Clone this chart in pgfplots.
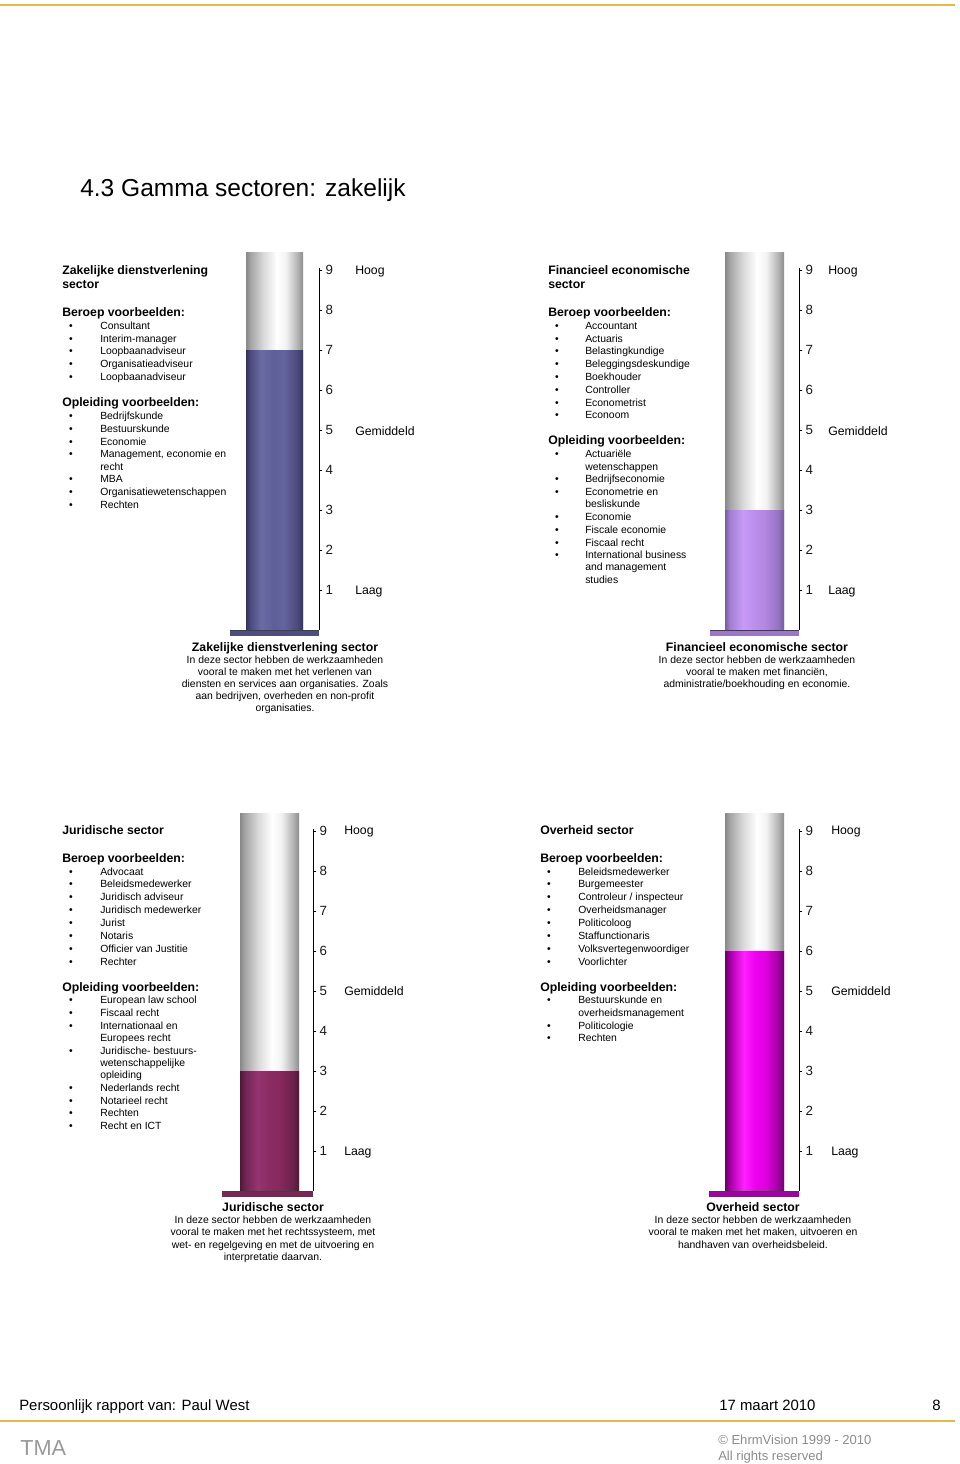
\documentclass[border=0pt]{standalone}
\usepackage{pgfplots}
\pgfplotsset{compat=1.18}
\usepackage{fontspec}
\setmainfont{Liberation Sans}

\definecolor{gold}{HTML}{E0B94A}
\definecolor{g0}{HTML}{888888}\definecolor{g1}{HTML}{A4A4A4}\definecolor{g2}{HTML}{D8D8D8}
\definecolor{g3}{HTML}{FFFFFF}\definecolor{g4}{HTML}{F2F2F2}\definecolor{g5}{HTML}{B4B4B4}\definecolor{g6}{HTML}{8C8C8C}
\definecolor{a0}{HTML}{33335A}\definecolor{a1}{HTML}{4C4C80}\definecolor{a2}{HTML}{6A6AA4}
\definecolor{a3}{HTML}{5E5E98}\definecolor{a4}{HTML}{6464A0}\definecolor{a5}{HTML}{4A4A7C}\definecolor{a6}{HTML}{35355A}
\definecolor{b0}{HTML}{7A5AA0}\definecolor{b1}{HTML}{A07ED2}\definecolor{b2}{HTML}{C69AF6}
\definecolor{b3}{HTML}{BA8EEA}\definecolor{b4}{HTML}{B488E2}\definecolor{b5}{HTML}{9474C4}\definecolor{b6}{HTML}{7A5A9E}
\definecolor{c0}{HTML}{4E1838}\definecolor{c1}{HTML}{6E2452}\definecolor{c2}{HTML}{95346E}
\definecolor{c3}{HTML}{8A2C62}\definecolor{c4}{HTML}{88295F}\definecolor{c5}{HTML}{6A2249}\definecolor{c6}{HTML}{4E1838}
\definecolor{d0}{HTML}{6A006A}\definecolor{d1}{HTML}{B000B0}\definecolor{d2}{HTML}{FF20FF}
\definecolor{d3}{HTML}{F000F0}\definecolor{d4}{HTML}{DC00DC}\definecolor{d5}{HTML}{A000A0}\definecolor{d6}{HTML}{700070}
\definecolor{baseA}{HTML}{4E4E7E}\definecolor{baseB}{HTML}{9A78C8}
\definecolor{baseC}{HTML}{7A2656}\definecolor{baseD}{HTML}{A000A4}

\pgfdeclarehorizontalshading{greytube}{100bp}{color(0bp)=(g0); color(25bp)=(g0); color(29bp)=(g1); color(40bp)=(g2); color(52bp)=(g3); color(60bp)=(g4); color(70bp)=(g5); color(75bp)=(g6); color(100bp)=(g6)}
\pgfdeclarehorizontalshading{tubeA}{100bp}{color(0bp)=(a0); color(25bp)=(a0); color(29bp)=(a1); color(38bp)=(a2); color(50bp)=(a3); color(58bp)=(a4); color(70bp)=(a5); color(75bp)=(a6); color(100bp)=(a6)}
\pgfdeclarehorizontalshading{tubeB}{100bp}{color(0bp)=(b0); color(25bp)=(b0); color(29bp)=(b1); color(40bp)=(b2); color(50bp)=(b3); color(58bp)=(b4); color(70bp)=(b5); color(75bp)=(b6); color(100bp)=(b6)}
\pgfdeclarehorizontalshading{tubeC}{100bp}{color(0bp)=(c0); color(25bp)=(c0); color(29bp)=(c1); color(40bp)=(c2); color(50bp)=(c3); color(58bp)=(c4); color(70bp)=(c5); color(75bp)=(c6); color(100bp)=(c6)}
\pgfdeclarehorizontalshading{tubeD}{100bp}{color(0bp)=(d0); color(25bp)=(d0); color(30bp)=(d1); color(41bp)=(d2); color(50bp)=(d3); color(60bp)=(d4); color(70bp)=(d5); color(75bp)=(d6); color(100bp)=(d6)}

\newcommand\body{\fontsize{7.8}{9}\selectfont}
\newcommand\bhead{\fontsize{9.2}{11}\selectfont\bfseries}
\newcommand\scl{\fontsize{9.2}{11}\selectfont}

\newcommand\Ln[3]{\node[anchor=base west,inner sep=0pt,font=\body] at (#1,{-#2-3.3}) {#3};}
\newcommand\Hd[3]{\node[anchor=base west,inner sep=0pt,font=\bhead] at (#1,{-#2-4.3}) {#3};}
\newcommand\It[4]{\node[anchor=base,inner sep=0pt,font=\body] at (#1,{-#3-3.3}) {•};\Ln{#2}{#3}{#4}}
\newcommand\Sc[3]{\node[anchor=base west,inner sep=0pt,font=\scl] at (#1,{-#2-4.3}) {#3};}
\newcommand\Cb[3]{\node[anchor=base,inner sep=0pt,font=\bhead] at (#1,{-#2-4.3}) {#3};}
\newcommand\Cl[3]{\node[anchor=base,inner sep=0pt,font=\body] at (#1,{-#2-3.3}) {#3};}

% thermometer: x0, y0 (base line), xmax, tube left, tube right, value, shading, base colour
\newcommand\therm[8]{%
\coordinate (thermpos) at (#1,-#2);
\begin{axis}[at={(thermpos)}, anchor=south west,
  x=0.75pt, y=30pt, xmin=0, xmax=#3, ymin=0, ymax=9.05,
  axis x line=none, axis y line=right,
  axis line style={-, black, line width=0.6pt},
  xtick=\empty, ytick={1,2,3,4,5,6,7,8,9},
  tick align=outside, major tick length=2.5pt,
  tick style={black, line width=0.5pt},
  yticklabel style={font=\fontsize{10}{11}\selectfont, text=black!90, inner sep=2.2pt},
  /pgf/number format/assume math mode=true,
  clip=false]
\addplot[draw=none, shade, shading=greytube] coordinates {(#4,0) (#4,9.45) (#5,9.45) (#5,0)} -- cycle;
\addplot[draw=none, shade, shading=#7] coordinates {(#4,0) (#4,#6) (#5,#6) (#5,0)} -- cycle;
\addplot[draw=none, fill=#8] coordinates {(0,-0.16) (0,0) (#3,0) (#3,-0.16)} -- cycle;
\addplot[black!75, line width=0.6pt] coordinates {(0,0) (#3,0)};
\end{axis}}

\begin{document}
\begin{tikzpicture}[x=0.75pt,y=0.75pt]
\path[use as bounding box] (0,0) rectangle (960,-1464);

\draw[gold, line width=1.9pt] (0,-5) -- (955,-5);

\node[anchor=base west,inner sep=0pt,font=\fontsize{18.4}{22}\selectfont] at (80,-196) {4.3 Gamma sectoren: zakelijk};

% ---------------- panel 1
\Hd{62}{270}{Zakelijke dienstverlening}
\Hd{62}{284}{sector}
\Hd{62}{312}{Beroep voorbeelden:}
\It{71}{100}{326}{Consultant}
\It{71}{100}{339}{Interim-manager}
\It{71}{100}{351}{Loopbaanadviseur}
\It{71}{100}{364}{Organisatieadviseur}
\It{71}{100}{377}{Loopbaanadviseur}
\Hd{62}{402}{Opleiding voorbeelden:}
\It{71}{100}{416}{Bedrijfskunde}
\It{71}{100}{429}{Bestuurskunde}
\It{71}{100}{442}{Economie}
\It{71}{100}{454}{Management, economie en}
\Ln{100}{467}{recht}
\It{71}{100}{479}{MBA}
\It{71}{100}{492}{Organisatiewetenschappen}
\It{71}{100}{505}{Rechten}

\therm{230}{630}{89}{16}{73}{7}{tubeA}{baseA}
\Sc{355}{270}{Hoog}
\Sc{355}{431}{Gemiddeld}
\Sc{355}{590}{Laag}

\Cb{285}{647}{Zakelijke dienstverlening sector}
\Cl{285}{660}{In deze sector hebben de werkzaamheden}
\Cl{285}{672}{vooral te maken met het verlenen van}
\Cl{285}{684}{diensten en services aan organisaties. Zoals}
\Cl{285}{696}{aan bedrijven, overheden en non-profit}
\Cl{285}{708}{organisaties.}

% ---------------- panel 2
\Hd{548}{270}{Financieel economische}
\Hd{548}{284}{sector}
\Hd{548}{312}{Beroep voorbeelden:}
\It{557}{585}{326}{Accountant}
\It{557}{585}{339}{Actuaris}
\It{557}{585}{351}{Belastingkundige}
\It{557}{585}{364}{Beleggingsdeskundige}
\It{557}{585}{377}{Boekhouder}
\It{557}{585}{390}{Controller}
\It{557}{585}{403}{Econometrist}
\It{557}{585}{415}{Econoom}
\Hd{548}{440}{Opleiding voorbeelden:}
\It{557}{585}{454}{Actuariële}
\Ln{585}{467}{wetenschappen}
\It{557}{585}{479}{Bedrijfseconomie}
\It{557}{585}{492}{Econometrie en}
\Ln{585}{504}{besliskunde}
\It{557}{585}{517}{Economie}
\It{557}{585}{530}{Fiscale economie}
\It{557}{585}{543}{Fiscaal recht}
\It{557}{585}{555}{International business}
\Ln{585}{567}{and management}
\Ln{585}{580}{studies}

\therm{710}{630}{89}{15}{74}{3}{tubeB}{baseB}
\Sc{828}{270}{Hoog}
\Sc{828}{431}{Gemiddeld}
\Sc{828}{590}{Laag}

\Cb{757}{647}{Financieel economische sector}
\Cl{757}{660}{In deze sector hebben de werkzaamheden}
\Cl{757}{672}{vooral te maken met financiën,}
\Cl{757}{684}{administratie/boekhouding en economie.}

% ---------------- panel 3
\Hd{62}{830}{Juridische sector}
\Hd{62}{858}{Beroep voorbeelden:}
\It{71}{100}{872}{Advocaat}
\It{71}{100}{884}{Beleidsmedewerker}
\It{71}{100}{897}{Juridisch adviseur}
\It{71}{100}{910}{Juridisch medewerker}
\It{71}{100}{923}{Jurist}
\It{71}{100}{936}{Notaris}
\It{71}{100}{949}{Officier van Justitie}
\It{71}{100}{962}{Rechter}
\Hd{62}{987}{Opleiding voorbeelden:}
\It{71}{100}{1000}{European law school}
\It{71}{100}{1013}{Fiscaal recht}
\It{71}{100}{1026}{Internationaal en}
\Ln{100}{1038}{Europees recht}
\It{71}{100}{1051}{Juridische- bestuurs-}
\Ln{100}{1063}{wetenschappelijke}
\Ln{100}{1075}{opleiding}
\It{71}{100}{1088}{Nederlands recht}
\It{71}{100}{1101}{Notarieel recht}
\It{71}{100}{1113}{Rechten}
\It{71}{100}{1126}{Recht en ICT}

\therm{222}{1191}{91}{18}{77}{3}{tubeC}{baseC}
\Sc{344}{830}{Hoog}
\Sc{344}{991}{Gemiddeld}
\Sc{344}{1151}{Laag}

\Cb{273}{1207}{Juridische sector}
\Cl{273}{1220}{In deze sector hebben de werkzaamheden}
\Cl{273}{1232}{vooral te maken met het rechtssysteem, met}
\Cl{273}{1245}{wet- en regelgeving en met de uitvoering en}
\Cl{273}{1257}{interpretatie daarvan.}

% ---------------- panel 4
\Hd{540}{830}{Overheid sector}
\Hd{540}{858}{Beroep voorbeelden:}
\It{549}{578}{872}{Beleidsmedewerker}
\It{549}{578}{884}{Burgemeester}
\It{549}{578}{897}{Controleur / inspecteur}
\It{549}{578}{910}{Overheidsmanager}
\It{549}{578}{923}{Politicoloog}
\It{549}{578}{936}{Staffunctionaris}
\It{549}{578}{949}{Volksvertegenwoordiger}
\It{549}{578}{962}{Voorlichter}
\Hd{540}{987}{Opleiding voorbeelden:}
\It{549}{578}{1000}{Bestuurskunde en}
\Ln{578}{1013}{overheidsmanagement}
\It{549}{578}{1026}{Politicologie}
\It{549}{578}{1038}{Rechten}

\therm{709}{1191}{90}{16}{75}{6}{tubeD}{baseD}
\Sc{831}{830}{Hoog}
\Sc{831}{991}{Gemiddeld}
\Sc{831}{1151}{Laag}

\Cb{753}{1207}{Overheid sector}
\Cl{753}{1220}{In deze sector hebben de werkzaamheden}
\Cl{753}{1232}{vooral te maken met het maken, uitvoeren en}
\Cl{753}{1245}{handhaven van overheidsbeleid.}

% ---------------- footer
\node[anchor=base west,inner sep=0pt,font=\fontsize{11.2}{13}\selectfont] at (19,-1410) {Persoonlijk rapport van: Paul West};
\node[anchor=base west,inner sep=0pt,font=\fontsize{11.2}{13}\selectfont] at (719,-1410) {17 maart 2010};
\node[anchor=base east,inner sep=0pt,font=\fontsize{11.2}{13}\selectfont] at (941,-1410) {8};
\draw[gold, line width=2.2pt] (0,-1421) -- (955,-1421);
\node[anchor=base west,inner sep=0pt,font=\fontsize{16.3}{19}\selectfont,text=black!40] at (20,-1455) {TMA};
\node[anchor=base west,inner sep=0pt,font=\fontsize{9.8}{12}\selectfont,text=black!45] at (718,-1444) {© EhrmVision 1999 - 2010};
\node[anchor=base west,inner sep=0pt,font=\fontsize{9.8}{12}\selectfont,text=black!45] at (718,-1460) {All rights reserved};
\end{tikzpicture}
\end{document}
